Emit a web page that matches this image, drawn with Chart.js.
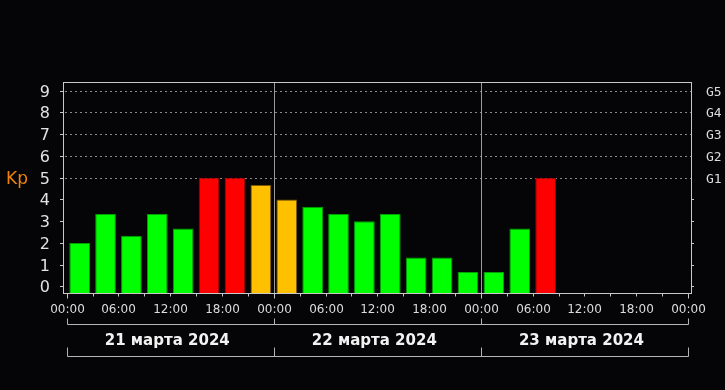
<!DOCTYPE html>
<html>
<head>
<meta charset="utf-8">
<script src="https://cdn.jsdelivr.net/npm/chart.js@4"></script>
<style>
  html, body { margin: 0; padding: 0; background: #050508; }
  #wrap { width: 725px; height: 390px; position: relative; }
</style>
</head>
<body>
<div id="wrap"><canvas id="kp"></canvas></div>
<script>
/* Kp index, 3-hour bars, 21-23 March 2024 */
var BAR_START_HOURS = [0, 3, 6, 9, 12, 15, 18, 21, 24, 27, 30, 33, 36, 39, 42, 45, 48, 51, 54];
var KP_VALUES = [2.0, 3.33, 2.33, 3.33, 2.67, 5.0, 5.0, 4.67, 4.0, 3.67, 3.33, 3.0, 3.33, 1.33, 1.33, 0.67, 0.67, 2.67, 5.0];
var DAY_LABELS = ['21 марта 2024', '22 марта 2024', '23 марта 2024'];
var TIME_LABELS = ['00:00', '06:00', '12:00', '18:00'];
var Y_TICKS = [0, 1, 2, 3, 4, 5, 6, 7, 8, 9];
var G_LABELS = ['G1', 'G2', 'G3', 'G4', 'G5'];
var G_LEVELS = [5, 6, 7, 8, 9];

var Y_MIN = -0.3, Y_MAX = 9.4;
var X_MIN = -0.43, X_MAX = 72.35;

function barColor(v) {
  if (v >= 5) return '#ff0000';
  if (v >= 4) return '#ffc000';
  return '#00ff00';
}
function barEdge(v) {
  if (v >= 5) return '#a00000';
  if (v >= 4) return '#7a5a00';
  return '#00a000';
}

var points = BAR_START_HOURS.map(function (h, i) { return { x: h + 1.5, y: KP_VALUES[i] }; });

function line(ctx, x0, y0, x1, y1) {
  ctx.beginPath(); ctx.moveTo(x0, y0); ctx.lineTo(x1, y1); ctx.stroke();
}

var axesPlugin = {
  id: 'kpAxes',
  beforeDatasetsDraw: function (chart) {
    var ctx = chart.ctx, a = chart.chartArea, ys = chart.scales.y;
    ctx.save();
    ctx.strokeStyle = '#8a8a8a'; ctx.lineWidth = 1; ctx.setLineDash([2, 3]);
    G_LEVELS.forEach(function (g) {
      var y = Math.round(ys.getPixelForValue(g)) + 0.5;
      line(ctx, a.left + 2, y, a.right, y);
    });
    ctx.restore();
  },
  afterDatasetsDraw: function (chart) {
    var ctx = chart.ctx, a = chart.chartArea, xs = chart.scales.x, ys = chart.scales.y;
    ctx.save();
    ctx.lineWidth = 1;

    // day separators
    ctx.strokeStyle = '#9a9a9a';
    [24, 48].forEach(function (h) {
      var x = Math.round(xs.getPixelForValue(h)) + 0.5;
      line(ctx, x, a.top, x, a.bottom);
    });

    // frame
    ctx.strokeStyle = '#c8c8c8';
    ctx.strokeRect(Math.round(a.left) + 0.5, Math.round(a.top) + 0.5,
      Math.round(a.right - a.left), Math.round(a.bottom - a.top));

    // y ticks + labels
    ctx.fillStyle = '#e2e2e2';
    ctx.font = '16px "DejaVu Sans"';
    ctx.textAlign = 'right'; ctx.textBaseline = 'middle';
    Y_TICKS.forEach(function (v) {
      var y = Math.round(ys.getPixelForValue(v)) + 0.5;
      ctx.strokeStyle = '#c8c8c8';
      line(ctx, a.left - 3, y, a.left, y);
      if (v < 5) line(ctx, a.right, y, a.right + 3, y);
      ctx.fillText(String(v), 50, y + 1);
    });

    // G labels
    ctx.font = '13px "DejaVu Sans Mono"';
    ctx.textAlign = 'left';
    ctx.fillStyle = '#dcdcdc';
    G_LEVELS.forEach(function (g, i) {
      var y = Math.round(ys.getPixelForValue(g)) + 0.5;
      ctx.fillText(G_LABELS[i], 706, y + 1);
    });

    // Kp title
    ctx.fillStyle = '#f08208';
    ctx.font = '17px "DejaVu Sans"';
    ctx.textBaseline = 'alphabetic';
    ctx.fillText('Kp', 6, 184);

    // x ticks every 3 h, labels every 6 h
    ctx.strokeStyle = '#c8c8c8';
    ctx.fillStyle = '#dcdcdc';
    ctx.font = '12px "DejaVu Sans"';
    ctx.textAlign = 'center';
    var base = Math.round(a.bottom) + 0.5;
    for (var h = 0; h <= 72; h += 3) {
      var x = Math.round(xs.getPixelForValue(h)) + 0.5;
      var len = (h % 24 === 0) ? 5 : 3;
      line(ctx, x, base, x, base + len);
      if (h % 6 === 0) ctx.fillText(TIME_LABELS[(h % 24) / 6], x, 313);
    }

    // day brackets
    var x0 = Math.round(xs.getPixelForValue(0)) + 0.5;
    var x3 = Math.round(xs.getPixelForValue(72)) + 0.5;
    ctx.strokeStyle = '#b4b4b4';
    [[324.5, -6], [356.5, -9]].forEach(function (b) {
      line(ctx, x0, b[0], x3, b[0]);
      for (var d = 0; d <= 3; d++) {
        var xd = Math.round(xs.getPixelForValue(d * 24)) + 0.5;
        line(ctx, xd, b[0], xd, b[0] + b[1]);
      }
    });

    // day labels
    ctx.fillStyle = '#f2f2f2';
    ctx.font = 'bold 15px "DejaVu Sans"';
    DAY_LABELS.forEach(function (t, d) {
      var xc = (xs.getPixelForValue(d * 24) + xs.getPixelForValue(d * 24 + 24)) / 2;
      ctx.fillText(t, xc - 3, 345);
    });
    ctx.restore();
  }
};

new Chart(document.getElementById('kp'), {
  type: 'bar',
  data: {
    datasets: [{
      data: points,
      base: Y_MIN,
      backgroundColor: KP_VALUES.map(barColor),
      borderColor: KP_VALUES.map(barEdge),
      borderWidth: 1,
      barPercentage: 0.8,
      categoryPercentage: 1.0
    }]
  },
  options: {
    responsive: true, maintainAspectRatio: false,
    animation: false,
    layout: { padding: { left: 63, right: 34, top: 82, bottom: 97 } },
    plugins: { legend: { display: false }, tooltip: { enabled: false } },
    scales: {
      x: { type: 'linear', min: X_MIN, max: X_MAX, offset: false, display: false },
      y: { min: Y_MIN, max: Y_MAX, display: false }
    }
  },
  plugins: [axesPlugin]
});
</script>
</body>
</html>
